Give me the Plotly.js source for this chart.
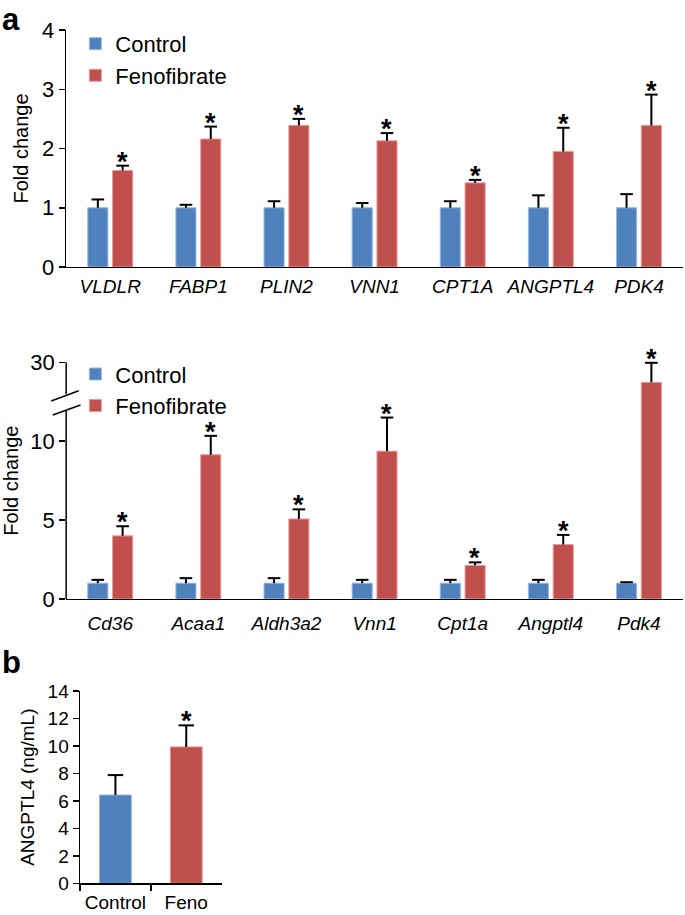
<!DOCTYPE html>
<html>
<head>
<meta charset="utf-8">
<script src="https://cdn.plot.ly/plotly-3.0.1.min.js"></script>
<style>html,body{margin:0;padding:0;background:#fff;}#chart{width:685px;height:915px;}</style>
</head>
<body>
<div id="chart"></div>
<script>
// ---- Panel a (top): human genes ----
const topGenes = ['VLDLR', 'FABP1', 'PLIN2', 'VNN1', 'CPT1A', 'ANGPTL4', 'PDK4'];
const topControl = [1, 1, 1, 1, 1, 1, 1];
const topControlErr = [0.14, 0.05, 0.11, 0.08, 0.11, 0.21, 0.23];
const topFeno = [1.63, 2.16, 2.39, 2.13, 1.42, 1.95, 2.39];
const topFenoErr = [0.08, 0.21, 0.11, 0.13, 0.05, 0.40, 0.52];

// ---- Panel a (middle): mouse genes (broken axis) ----
const midGenes = ['Cd36', 'Acaa1', 'Aldh3a2', 'Vnn1', 'Cpt1a', 'Angptl4', 'Pdk4'];
const midControl = [1, 1, 1, 1, 1, 1, 1];
const midControlErr = [0.21, 0.32, 0.32, 0.21, 0.21, 0.21, 0.06];
const midFeno = [4.0, 9.14, 5.07, 9.37, 2.13, 3.45, 28.73];
const midFenoErr = [0.61, 1.2, 0.61, 2.13, 0.19, 0.61, 1.24];
const midTickValues = [0, 5, 10, 30];

// ---- Panel b: plasma ANGPTL4 ----
const bGroups = ['Control', 'Feno'];
const bValues = [6.43, 9.93];
const bErr = [1.45, 1.57];

const seriesNames = ['Control', 'Fenofibrate'];
const BLUE = '#4f81bd', RED = '#c0504d';
const BLUE_EDGE = '#9ab7de', RED_EDGE = '#e59a98';

// broken-axis mapping: values above BREAK_HI are shifted down
const BREAK_LO = 12, BREAK_HI = 27;
function toDisp(v) { return v <= BREAK_LO ? v : v - (BREAK_HI - BREAK_LO); }

const FONT = 'Liberation Sans, Arial, Helvetica, sans-serif';
const zeros = n => new Array(n).fill(0);

function errY(arr) {
  return {type: 'data', symmetric: false, array: arr, arrayminus: zeros(arr.length),
          color: '#000', thickness: 2, width: 0, visible: true};
}
function caps(x, tops, xa, ya, size) {
  return {type: 'scatter', mode: 'markers', x: x, y: tops, xaxis: xa, yaxis: ya, showlegend: false,
    hoverinfo: 'skip', cliponaxis: false,
    marker: {symbol: 'line-ew', size: size, color: '#000', line: {width: 2, color: '#000'}}};
}

const midCtrlDisp = midControl.map(toDisp);
const midFenoDisp = midFeno.map(toDisp);
const midCtrlTop = midControl.map((v, i) => toDisp(v + midControlErr[i]));
const midFenoTop = midFeno.map((v, i) => toDisp(v + midFenoErr[i]));

const traces = [
  {type: 'bar', x: topGenes, y: topControl, name: seriesNames[0], xaxis: 'x', yaxis: 'y', legend: 'legend',
   marker: {color: BLUE, line: {color: BLUE_EDGE, width: 1}}, error_y: errY(topControlErr)},
  {type: 'bar', x: topGenes, y: topFeno, name: seriesNames[1], xaxis: 'x', yaxis: 'y', legend: 'legend',
   marker: {color: RED, line: {color: RED_EDGE, width: 1}}, error_y: errY(topFenoErr)},
  {type: 'bar', x: midGenes, y: midCtrlDisp, name: seriesNames[0], xaxis: 'x2', yaxis: 'y2', legend: 'legend2',
   marker: {color: BLUE, line: {color: BLUE_EDGE, width: 1}},
   error_y: errY(midCtrlTop.map((t, i) => t - midCtrlDisp[i]))},
  {type: 'bar', x: midGenes, y: midFenoDisp, name: seriesNames[1], xaxis: 'x2', yaxis: 'y2', legend: 'legend2',
   marker: {color: RED, line: {color: RED_EDGE, width: 1}},
   error_y: errY(midFenoTop.map((t, i) => t - midFenoDisp[i]))},
  {type: 'bar', x: bGroups, y: bValues, xaxis: 'x3', yaxis: 'y3', showlegend: false, width: 0.45,
   marker: {color: [BLUE, RED], line: {color: [BLUE_EDGE, RED_EDGE], width: 1}}, error_y: errY(bErr)},
  caps(topGenes, topControl.map((v, i) => v + topControlErr[i]), 'x', 'y', 9),
  caps(topGenes, topFeno.map((v, i) => v + topFenoErr[i]), 'x', 'y', 9),
  caps(midGenes, midCtrlTop, 'x2', 'y2', 9),
  caps(midGenes, midFenoTop, 'x2', 'y2', 9),
  caps(bGroups, bValues.map((v, i) => v + bErr[i]), 'x3', 'y3', 11)
];

const annotations = [];
function star(xref, yref, x, y, xshift) {
  annotations.push({xref: xref, yref: yref, x: x, y: y, xshift: xshift, yshift: 4, text: '<b>*</b>',
    showarrow: false, yanchor: 'middle', font: {size: 27, family: FONT, color: '#000'}});
}
topGenes.forEach((g, i) => star('x', 'y', g, topFeno[i] + topFenoErr[i], 12.4));
midGenes.forEach((g, i) => star('x2', 'y2', g, midFenoTop[i], 12.2));
star('x3', 'y3', bGroups[1], bValues[1] + bErr[1], 0);
annotations.push({xref: 'paper', yref: 'paper', x: 0.0, y: 1.0, xanchor: 'left', yanchor: 'top',
  text: '<b>a</b>', showarrow: false, font: {size: 31, family: FONT, color: '#000'}});
annotations.push({xref: 'paper', yref: 'paper', x: 0.0, y: 0.2765, xanchor: 'left', yanchor: 'middle',
  text: '<b>b</b>', showarrow: false, font: {size: 31, family: FONT, color: '#000'}});

const L = {color: '#000', width: 1.5};
const shapes = [
  {type: 'line', xref: 'x2 domain', yref: 'y2 domain', x0: 0, x1: 0, y0: 0.866, y1: 1, line: L},
  {type: 'line', xref: 'x2 domain', yref: 'y2 domain', x0: 0, x1: 0, y0: 0, y1: 0.794, line: L},
  {type: 'line', xref: 'x2 domain', yref: 'y2 domain', x0: -0.0243, x1: 0.0204, y0: 0.8365, y1: 0.880, line: L},
  {type: 'line', xref: 'x2 domain', yref: 'y2 domain', x0: -0.0217, x1: 0.0232, y0: 0.7774, y1: 0.8196, line: L}
];

const xDom = [0.0966, 0.9971];
const catAxis = {showline: true, linecolor: '#000', linewidth: 1.5, ticks: '', showgrid: false, zeroline: false,
  tickfont: {size: 19, family: FONT, style: 'italic', color: '#000'}, automargin: false, fixedrange: true};
const valAxis = {showline: true, linecolor: '#000', linewidth: 1.5, ticks: 'outside', ticklen: 6, tickwidth: 1.5,
  tickcolor: '#000', showgrid: false, zeroline: false, tickfont: {size: 22, family: FONT, color: '#000'},
  automargin: false, fixedrange: true};

const layout = {
  width: 685, height: 915,
  margin: {l: 0, r: 0, t: 0, b: 0},
  paper_bgcolor: '#fff', plot_bgcolor: '#fff',
  font: {family: FONT, color: '#000'},
  barmode: 'group', bargap: 0.437, bargroupgap: 0.19,
  scattermode: 'group', scattergap: 0.437,
  xaxis: Object.assign({}, catAxis, {domain: xDom, anchor: 'y', ticklabelstandoff: 2}),
  yaxis: Object.assign({}, valAxis, {domain: [0.7082, 0.9672], anchor: 'x', range: [0, 4], dtick: 1,
    title: {text: 'Fold change', font: {size: 20, family: FONT}, standoff: 8}}),
  xaxis2: Object.assign({}, catAxis, {domain: xDom, anchor: 'y2', ticklabelstandoff: 7}),
  yaxis2: Object.assign({}, valAxis, {domain: [0.3454, 0.6040], anchor: 'x2', range: [0, 15], showline: false,
    tickvals: midTickValues.map(toDisp), ticktext: midTickValues.map(String),
    title: {text: 'Fold change', font: {size: 20, family: FONT}, standoff: 8}}),
  xaxis3: Object.assign({}, catAxis, {domain: [0.1168, 0.3236], anchor: 'y3', ticks: 'outside', tickson: 'boundaries',
    ticklen: 6, tickwidth: 1.5, tickcolor: '#000', ticklabelstandoff: 1, tickangle: 0,
    tickfont: {size: 19, family: FONT, color: '#000'}}),
  yaxis3: Object.assign({}, valAxis, {domain: [0.0346, 0.2448], anchor: 'x3', range: [0, 14], dtick: 2,
    tickfont: {size: 19, family: FONT, color: '#000'},
    title: {text: 'ANGPTL4 (ng/mL)', font: {size: 19, family: FONT}, standoff: 8}}),
  legend: {x: 0.110, y: 0.975, xanchor: 'left', yanchor: 'top', bgcolor: 'rgba(0,0,0,0)',
    font: {size: 22, family: FONT, color: '#000'}, tracegroupgap: 0},
  legend2: {x: 0.110, y: 0.614, xanchor: 'left', yanchor: 'top', bgcolor: 'rgba(0,0,0,0)',
    font: {size: 22, family: FONT, color: '#000'}, tracegroupgap: 0},
  annotations: annotations,
  shapes: shapes
};

Plotly.newPlot('chart', traces, layout, {displayModeBar: false, staticPlot: true});
</script>
</body>
</html>
